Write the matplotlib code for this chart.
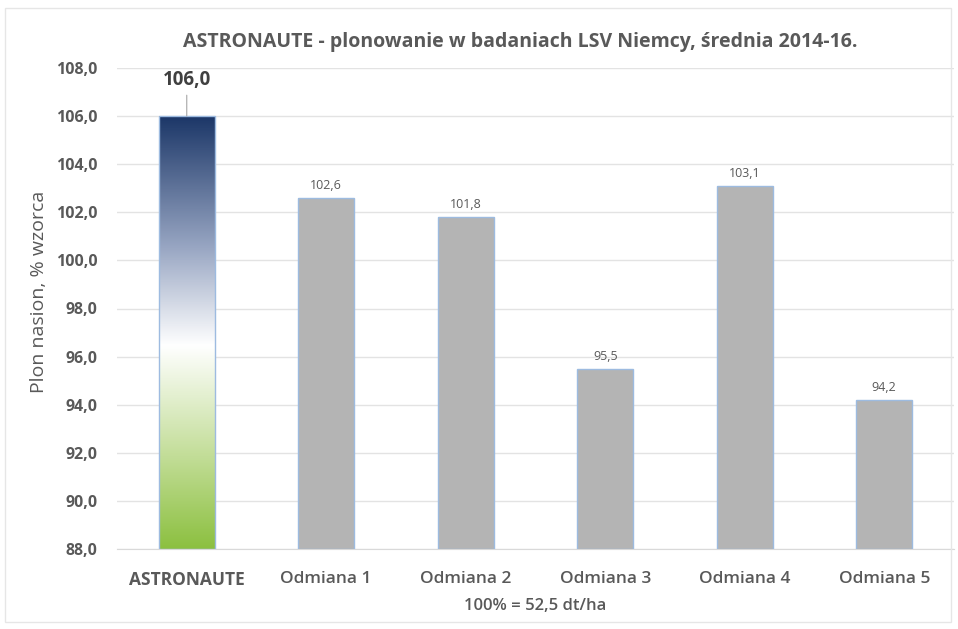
import matplotlib
matplotlib.use("Agg")
import matplotlib.pyplot as plt
import numpy as np
from matplotlib.colors import LinearSegmentedColormap
from matplotlib.patches import Rectangle

categories = ["ASTRONAUTE", "Odmiana 1", "Odmiana 2", "Odmiana 3", "Odmiana 4", "Odmiana 5"]
values = [106.0, 102.6, 101.8, 95.5, 103.1, 94.2]
yticks = [88, 90, 92, 94, 96, 98, 100, 102, 104, 106, 108]

plt.rcParams['font.family'] = ['Open Sans', 'DejaVu Sans']
txt = '#595959'

fig = plt.figure(figsize=(9.58, 6.29), dpi=100)
ax = fig.add_axes([117/958, 1-549/629, 837/958, (549-68)/629])

x = np.arange(len(categories))
w = 0.4
ymin, ymax = 88, 108
colors = ['none'] + ['#b4b4b4'] * 5
bars = ax.bar(x, np.array(values) - ymin, bottom=ymin, width=w, color=colors,
              edgecolor='#9dbbe0', linewidth=1.0, zorder=3)

# gradient for first bar
cmap = LinearSegmentedColormap.from_list('g', [
    (0.0, '#8cc040'), (0.22, '#c4de9a'), (0.47, '#ffffff'),
    (0.7, '#97a5c2'), (1.0, '#1c3768')])
grad = np.linspace(0, 1, 256).reshape(-1, 1)
b0 = bars[0]
im = ax.imshow(grad, aspect='auto', cmap=cmap, origin='lower',
               extent=[x[0] - w/2, x[0] + w/2, ymin, values[0]], zorder=2)
im.set_clip_path(b0)

ax.set_xlim(-0.5, len(categories) - 0.5)
ax.set_ylim(ymin, ymax)
ax.set_yticks(yticks)
ax.set_yticklabels([f"{v:.1f}".replace('.', ',') for v in yticks], color=txt,
                   fontsize=11.5, fontweight='bold')
ax.set_xticks(x)
ax.set_xticklabels(categories, color=txt, fontsize=12.5, fontweight='semibold')
ax.get_xticklabels()[0].set_fontweight('bold')
ax.tick_params(axis='both', length=0)
ax.tick_params(axis='y', pad=14)
ax.tick_params(axis='x', pad=16)
ax.grid(axis='y', color='#e3e3e3', linewidth=1, zorder=0)
for s in ['top', 'right', 'left']:
    ax.spines[s].set_visible(False)
ax.spines['bottom'].set_color('#d9d9d9')

# data labels
for i, v in enumerate(values):
    lab = f"{v:.1f}".replace('.', ',')
    if i == 0:
        ax.annotate(lab, xy=(x[i], v), xytext=(x[i], v + 1.1), ha='center', va='bottom',
                    fontsize=13.5, fontweight='bold', color='#404040',
                    arrowprops=dict(arrowstyle='-', color='#a6a6a6', lw=0.8,
                                    shrinkA=2, shrinkB=0))
    else:
        ax.text(x[i], v + 0.25, lab, ha='center', va='bottom', fontsize=9, color=txt)

ax.set_ylabel("Plon nasion, % wzorca", fontsize=14, color=txt)
ax.yaxis.set_label_coords(-0.082, 0.534)
ax.set_xlabel("100% = 52,5 dt/ha", fontsize=12, color=txt, labelpad=6, fontweight='semibold')
fig.text(0.543, 1 - 42/629, "ASTRONAUTE - plonowanie w badaniach LSV Niemcy, średnia 2014-16.",
         ha='center', va='center', fontsize=14, fontweight='bold', color=txt)

fig.patches.append(Rectangle((5/958, 1-622/629), 946/958, 614/629, transform=fig.transFigure,
                             fill=False, edgecolor='#e6e6e6', linewidth=1))

fig.savefig("out.png", dpi=100)
